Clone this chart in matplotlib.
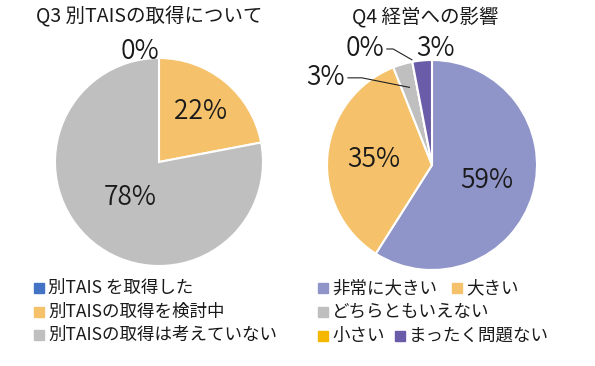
import numpy as np
import matplotlib.pyplot as plt
from matplotlib.patches import Rectangle

plt.rcParams['font.family'] = ['Noto Sans CJK JP', 'DejaVu Sans']

# Q3 data
q3_title = 'Q3 別TAISの取得について'
q3_labels = ['別TAIS を取得した', '別TAISの取得を検討中', '別TAISの取得は考えていない']
q3_values = [0, 22, 78]
q3_colors = ['#4472C4', '#F5C26B', '#BFBFBF']

# Q4 data
q4_title = 'Q4 経営への影響'
q4_labels = ['非常に大きい', '大きい', 'どちらともいえない', '小さい', 'まったく問題ない']
q4_values = [59, 35, 3, 0, 3]
q4_colors = ['#8F94C9', '#F5C26B', '#BFBFBF', '#F5B800', '#6A5CA8']

W, H = 595, 366
TXT = '#1a1a1a'
PCT_FS = 19
PCT_W = 350  # thinner digits like the original


def fx(px):
    return px / W


def fy(py):
    return 1 - py / H


def pie_axes(fig, cx, cy, r):
    return fig.add_axes([fx(cx - r), fy(cy + r), 2 * r / W, 2 * r / H])


def mid(w):
    return np.radians((w.theta1 + w.theta2) / 2)


def draw_pie(ax, values, colors):
    wedges, _ = ax.pie(values, colors=colors, startangle=90, counterclock=False,
                       radius=1, wedgeprops=dict(edgecolor='white', linewidth=1.5))
    ax.set_xlim(-1, 1)
    ax.set_ylim(-1, 1)
    ax.axis('off')
    return wedges


def pct_text(ax, x, y, v):
    ax.text(x, y, f'{v}%', ha='center', va='center', fontsize=PCT_FS, fontweight=PCT_W,
            color=TXT, clip_on=False)


def pct_inside(ax, w, v, dist):
    a = mid(w)
    pct_text(ax, dist * np.cos(a), dist * np.sin(a), v)


def leader(ax, w, v, tx, ty, kx, r_end):
    a = mid(w)
    pct_text(ax, tx, ty, v)
    ex, ey = r_end * np.cos(a), r_end * np.sin(a)
    ax.plot([kx[0], kx[1], ex], [ty, ty, ey], color='#222222', lw=0.8, clip_on=False)


fig = plt.figure(figsize=(W / 100, H / 100), dpi=100)

# left pie
ax1 = pie_axes(fig, 159, 162, 104)
w1 = draw_pie(ax1, q3_values, q3_colors)
pct_inside(ax1, w1[1], q3_values[1], 0.63)
pct_inside(ax1, w1[2], q3_values[2], 0.44)
pct_text(ax1, -0.18, 1.06, q3_values[0])
fig.text(fx(149), fy(17), q3_title, ha='center', va='center', fontsize=14, color=TXT)

# right pie
ax2 = pie_axes(fig, 432, 165, 105)
w2 = draw_pie(ax2, q4_values, q4_colors)
pct_inside(ax2, w2[0], q4_values[0], 0.54)
pct_inside(ax2, w2[1], q4_values[1], 0.56)
leader(ax2, w2[2], q4_values[2], -1.01, 0.83, (-0.80, -0.667), 0.77)
leader(ax2, w2[3], q4_values[3], -0.64, 1.105, (-0.43, -0.37), 1.02)
pct_text(ax2, 0.03, 1.105, q4_values[4])
fig.text(fx(425), fy(17), q4_title, ha='center', va='center', fontsize=14, color=TXT)


def legend_item(x, y, color, label):
    fig.add_artist(Rectangle((fx(x), fy(y + 5)), 10 / W, 10 / H, color=color,
                             transform=fig.transFigure))
    fig.text(fx(x + 14), fy(y), label, ha='left', va='center', fontsize=12.6, color=TXT)


# left legend
for i, (lab, col) in enumerate(zip(q3_labels, q3_colors)):
    legend_item(34, 288 + i * 23.5, col, lab)

# right legend (wrapped rows)
legend_item(318, 288, q4_colors[0], q4_labels[0])
legend_item(452, 288, q4_colors[1], q4_labels[1])
legend_item(318, 312, q4_colors[2], q4_labels[2])
legend_item(318, 336, q4_colors[3], q4_labels[3])
legend_item(395, 336, q4_colors[4], q4_labels[4])

fig.savefig('out.png', dpi=100, facecolor='white')
